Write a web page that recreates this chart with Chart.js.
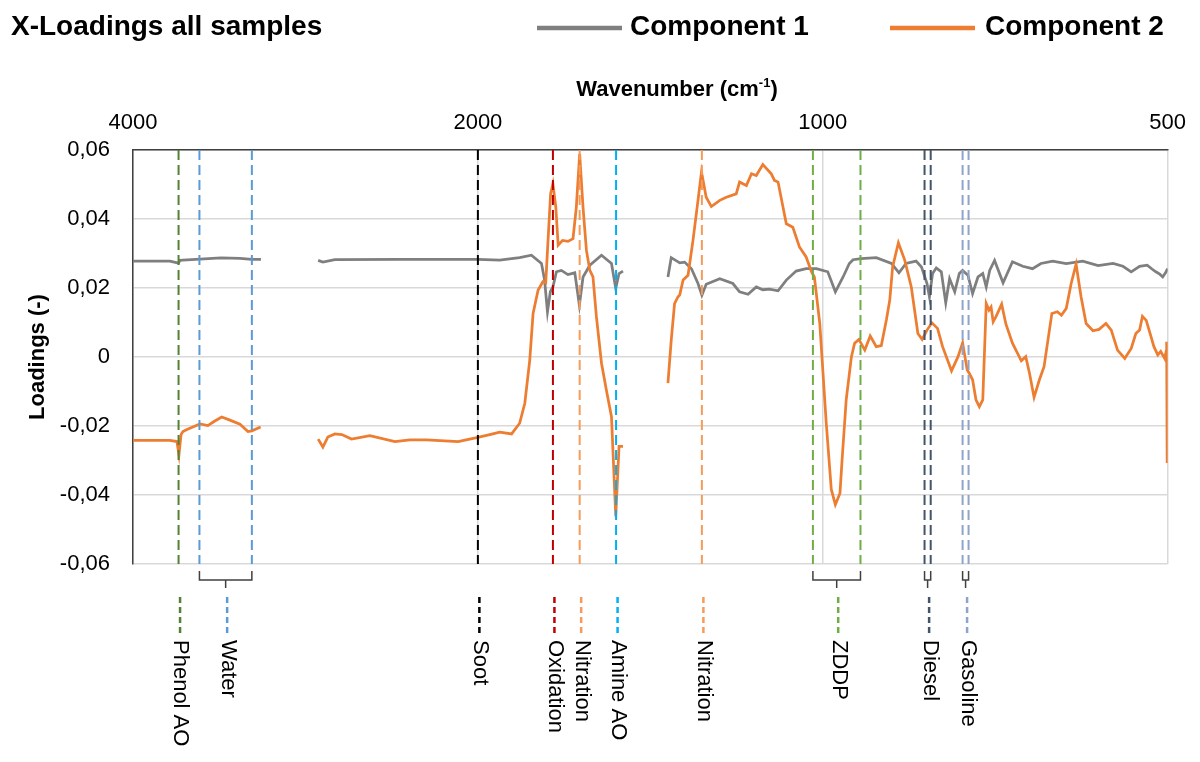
<!DOCTYPE html>
<html>
<head>
<meta charset="utf-8">
<script src="https://cdn.jsdelivr.net/npm/chart.js@4.4.1/dist/chart.umd.min.js"></script>
<style>
  html, body { margin: 0; padding: 0; background: #ffffff; }
  #wrap { width: 1200px; height: 762px; }
</style>
</head>
<body>
<div id="wrap"><canvas id="c" width="1200" height="762"></canvas></div>
<script>
// ---------------- DATA ----------------
const chartTitle = 'X-Loadings all samples';
const xTicks = [4000, 2000, 1000, 500];
const yTicks = [-0.06, -0.04, -0.02, 0, 0.02, 0.04, 0.06];

const comp1Wn = [4000, 3714, 3650, 3640, 3618, 3496, 3352, 3226, 3150, 3093, 2900,
  2757, 2731, 2666, 2340, 2000, 1914, 1839, 1796, 1760, 1749, 1739, 1729, 1720, 1708, 1691, 1669, 1646, 1631, 1619, 1597, 1560, 1529, 1516, 1506, 1494, 1430,
  1365, 1356, 1333, 1320, 1302, 1285, 1275, 1264, 1230, 1198, 1182, 1162, 1143, 1128, 1113, 1094, 1076, 1055, 1034, 1013, 990, 975, 960, 948, 941, 926, 898, 871, 858, 846, 829, 820, 811, 807, 802, 796, 788, 781, 775, 767, 760, 755, 747, 740, 732, 725, 720, 715, 708, 696, 683, 669, 656, 645, 630, 613, 593, 575, 558, 547, 538, 529, 521, 516, 512, 508, 505, 502, 500];
const comp1Val = [0.0278, 0.0278, 0.0272, 0.0280, 0.0281, 0.0284, 0.0287, 0.0286, 0.0283, 0.0283, null,
  0.0280, 0.0275, 0.0282, 0.0283, 0.0283, 0.0281, 0.0288, 0.0295, 0.0271, 0.0223, 0.0131, 0.0189, 0.0203, 0.0247, 0.0251, 0.0239, 0.0244, 0.0150, 0.0232, 0.0266, 0.0295, 0.0271, 0.0199, 0.0242, 0.0249, null,
  0.0232, 0.0288, 0.0273, 0.0275, 0.0256, 0.0213, 0.0179, 0.0211, 0.0227, 0.0213, 0.0189, 0.0182, 0.0203, 0.0195, 0.0197, 0.0192, 0.0223, 0.0249, 0.0256, 0.0256, 0.0247, 0.0189, 0.0232, 0.0271, 0.0282, 0.0285, 0.0288, 0.0271, 0.0244, 0.0271, 0.0278, 0.0261, 0.0213, 0.0174, 0.0242, 0.0258, 0.0247, 0.0157, 0.0227, 0.0189, 0.0242, 0.0251, 0.0237, 0.0184, 0.0232, 0.0242, 0.0203, 0.0251, 0.0280, 0.0215, 0.0276, 0.0263, 0.0256, 0.0271, 0.0278, 0.0271, 0.0278, 0.0265, 0.0271, 0.0263, 0.0247, 0.0263, 0.0266, 0.0255, 0.0247, 0.0240, 0.0232, 0.0245, 0.0256];

const comp2Wn = [4000, 3714, 3662, 3647, 3632, 3618, 3589, 3496, 3441, 3399, 3347, 3292, 3226, 3175, 3150, 3095, 2900,
  2757, 2731, 2704, 2666, 2629, 2578, 2485, 2363, 2293, 2218, 2081, 2000, 1953, 1914, 1869, 1839, 1820, 1802, 1790, 1772, 1755, 1745, 1737, 1728, 1720, 1710, 1702, 1687, 1669, 1652, 1641, 1630, 1619, 1608, 1597, 1587, 1576, 1560, 1545, 1529, 1516, 1506, 1494, 1430,
  1365, 1356, 1347, 1338, 1333, 1324, 1311, 1298, 1285, 1276, 1264, 1251, 1230, 1214, 1190, 1182, 1166, 1154, 1143, 1128, 1109, 1102, 1094, 1076, 1062, 1048, 1034, 1023, 1017, 1006, 993, 983, 975, 966, 962, 954, 944, 938, 930, 919, 909, 898, 889, 880, 874, 869, 859, 848, 837, 826, 819, 811, 803, 794, 786, 772, 762, 755, 748, 745, 740, 735, 730, 725, 720, 716, 713, 710, 706, 698, 692, 683, 671, 665, 660, 654, 647, 641, 636, 631, 624, 619, 613, 607, 601, 595, 589, 581, 574, 566, 560, 553, 545, 538, 533, 529, 526, 522, 517, 514, 510, 507, 503, 501.5, 501, 500.5, 500];
const comp2Val = [-0.0242, -0.0242, -0.0245, -0.0283, -0.0225, -0.0216, -0.0210, -0.0194, -0.0199, -0.0187, -0.0174, -0.0183, -0.0195, -0.0216, -0.0214, -0.0203, null,
  -0.0238, -0.0261, -0.0232, -0.0223, -0.0225, -0.0238, -0.0228, -0.0245, -0.0240, -0.0240, -0.0245, -0.0233, -0.0225, -0.0218, -0.0223, -0.0192, -0.0134, -0.0009, 0.0126, 0.0194, 0.0218, 0.0215, 0.0338, 0.0473, 0.0502, 0.0434, 0.0324, 0.0338, 0.0335, 0.0343, 0.0434, 0.0589, 0.0434, 0.0309, 0.0251, 0.0232, 0.0116, -0.0018, -0.0095, -0.0173, -0.0462, -0.0259, -0.0259, null,
  -0.0076, 0.0049, 0.0155, 0.0174, 0.0180, 0.0223, 0.0237, 0.0338, 0.0454, 0.0536, 0.0463, 0.0436, 0.0454, 0.0463, 0.0473, 0.0507, 0.0497, 0.0531, 0.0526, 0.0558, 0.0531, 0.0512, 0.0507, 0.0386, 0.0376, 0.0319, 0.0290, 0.0247, 0.0232, 0.0097, -0.0192, -0.0384, -0.0428, -0.0395, -0.0300, -0.0124, 0.0001, 0.0040, 0.0051, 0.0020, 0.0061, 0.0030, 0.0033, 0.0107, 0.0165, 0.0261, 0.0331, 0.0280, 0.0203, 0.0068, 0.0051, 0.0078, 0.0099, 0.0083, 0.0030, -0.0040, 0.0001, 0.0041, -0.0038, -0.0047, -0.0066, -0.0124, -0.0144, -0.0124, 0.0155, 0.0136, 0.0145, 0.0102, 0.0117, 0.0153, 0.0095, 0.0040, -0.0011, 0.0001, -0.0047, -0.0117, -0.0066, -0.0028, 0.0049, 0.0126, 0.0131, 0.0121, 0.0141, 0.0213, 0.0269, 0.0174, 0.0097, 0.0076, 0.0080, 0.0097, 0.0078, 0.0020, -0.0004, 0.0025, 0.0068, 0.0078, 0.0118, 0.0106, 0.0059, 0.0030, 0.0006, 0.0016, -0.0004, 0.0016, 0.0044, -0.0303, -0.0255];

const markerNames = ['Phenol AO', 'Water', 'Soot', 'Oxidation', 'Nitration', 'Amine AO', 'Nitration', 'ZDDP', 'Diesel', 'Gasoline'];
const markerWn = [[3650], [3500, 3150], [2000], [1720], [1630], [1515], [1275], [1020, 927], [815, 805], [755, 746]];
const markerColors = ['#548235', '#5B9BD5', '#000000', '#C00000', '#F79B5A', '#00B0F0', '#F79B5A', '#70AD47', '#44546A', '#8FA4C8'];

// ---------------- STYLE ----------------
const FONT = '"Liberation Sans", Arial, Helvetica, sans-serif';
Chart.defaults.font.family = FONT;

function fmtComma(v) {
  if (Math.abs(v) < 1e-9) return '0';
  return v.toFixed(2).replace('.', ',');
}

const decorPlugin = {
  id: 'decor',
  afterDatasetsDraw(chart) {
    const { ctx, chartArea: a, scales: { x } } = chart;
    ctx.save();
    markerWn.forEach((lines, i) => {
      const px = lines.map(v => x.getPixelForValue(v));
      ctx.strokeStyle = markerColors[i];
      ctx.lineWidth = 2;
      ctx.setLineDash([10, 5]);
      px.forEach(p => {
        ctx.beginPath();
        ctx.moveTo(p, a.top);
        ctx.lineTo(p, a.bottom);
        ctx.stroke();
      });
      let cx = px[0];
      if (px.length > 1) {
        const l = Math.min(...px), r = Math.max(...px);
        cx = (l + r) / 2;
        ctx.setLineDash([]);
        ctx.strokeStyle = '#404040';
        ctx.lineWidth = 1.5;
        ctx.beginPath();
        ctx.moveTo(l, a.bottom + 7);
        ctx.lineTo(l, a.bottom + 16);
        ctx.lineTo(r, a.bottom + 16);
        ctx.lineTo(r, a.bottom + 7);
        ctx.moveTo(cx, a.bottom + 16);
        ctx.lineTo(cx, a.bottom + 24);
        ctx.stroke();
      }
      const lx = cx + 1.5;
      ctx.setLineDash([6, 4]);
      ctx.strokeStyle = markerColors[i];
      ctx.lineWidth = 2.5;
      ctx.beginPath();
      ctx.moveTo(lx, a.bottom + 33);
      ctx.lineTo(lx, a.bottom + 73);
      ctx.stroke();
      ctx.setLineDash([]);
      ctx.save();
      ctx.translate(lx + 0.5, a.bottom + 76);
      ctx.rotate(Math.PI / 2);
      ctx.fillStyle = '#000000';
      ctx.font = '22px ' + FONT;
      ctx.textAlign = 'left';
      ctx.textBaseline = 'middle';
      ctx.fillText(markerNames[i], 0, 0);
      ctx.restore();
    });
    ctx.restore();
  },
  afterDraw(chart) {
    const { ctx } = chart;
    ctx.save();
    // title
    ctx.fillStyle = '#000000';
    ctx.font = 'bold 28px ' + FONT;
    ctx.textAlign = 'left';
    ctx.textBaseline = 'middle';
    ctx.fillText(chartTitle, 11, 27);
    // legend
    const legendPos = [[537, 622, 630], [890, 975, 985]];
    chart.data.datasets.forEach((ds, i) => {
      const [x0, x1, tx] = legendPos[i];
      ctx.strokeStyle = ds.borderColor;
      ctx.lineWidth = 4.5;
      ctx.beginPath();
      ctx.moveTo(x0, 28);
      ctx.lineTo(x1, 28);
      ctx.stroke();
      ctx.fillStyle = '#000000';
      ctx.font = 'bold 28px ' + FONT;
      ctx.fillText(ds.label, tx, 27);
    });
    // x axis title with superscript
    const main = 'Wavenumber (cm', sup = '-1', tail = ')';
    ctx.font = 'bold 22px ' + FONT;
    const w1 = ctx.measureText(main).width, w3 = ctx.measureText(tail).width;
    ctx.font = 'bold 13px ' + FONT;
    const w2 = ctx.measureText(sup).width;
    let sx = 677 - (w1 + w2 + w3) / 2;
    const ty = 90;
    ctx.font = 'bold 22px ' + FONT;
    ctx.fillText(main, sx, ty);
    ctx.font = 'bold 13px ' + FONT;
    ctx.fillText(sup, sx + w1, ty - 7);
    ctx.font = 'bold 22px ' + FONT;
    ctx.fillText(tail, sx + w1 + w2, ty);
    ctx.restore();
  }
};

new Chart(document.getElementById('c'), {
  type: 'line',
  data: {
    datasets: [
      {
        label: 'Component 1',
        data: comp1Wn.map((w, i) => ({ x: w, y: comp1Val[i] })),
        borderColor: '#7F7F7F',
        backgroundColor: '#7F7F7F',
        borderWidth: 2.75,
        pointRadius: 0,
        spanGaps: false,
        order: 2
      },
      {
        label: 'Component 2',
        data: comp2Wn.map((w, i) => ({ x: w, y: comp2Val[i] })),
        borderColor: '#ED7D31',
        backgroundColor: '#ED7D31',
        borderWidth: 2.75,
        pointRadius: 0,
        spanGaps: false,
        order: 1
      }
    ]
  },
  options: {
    responsive: false,
    animation: false,
    devicePixelRatio: 1,
    layout: { padding: { top: 0, left: 0, right: 32, bottom: 198 } },
    plugins: {
      legend: { display: false },
      tooltip: { enabled: false }
    },
    scales: {
      x: {
        type: 'logarithmic',
        position: 'top',
        reverse: true,
        min: 500,
        max: 4000,
        afterFit: s => { s.height = 150; },
        afterBuildTicks: s => { s.ticks = xTicks.map(v => ({ value: v })); },
        ticks: {
          autoSkip: false,
          maxRotation: 0,
          padding: 14,
          color: '#000000',
          font: { size: 22 },
          callback: v => String(v)
        },
        grid: { color: '#D9D9D9', lineWidth: 1.5, drawTicks: false },
        border: { display: true, color: '#404040', width: 1.5 }
      },
      y: {
        min: -0.06,
        max: 0.06,
        afterFit: s => { s.width = 133; },
        afterBuildTicks: s => { s.ticks = yTicks.map(v => ({ value: v })); },
        ticks: {
          padding: 23,
          color: '#000000',
          font: { size: 22 },
          callback: v => fmtComma(v)
        },
        grid: { color: '#D9D9D9', lineWidth: 1.5, drawTicks: false },
        border: { display: true, color: '#404040', width: 1.5 },
        title: {
          display: true,
          text: 'Loadings (-)',
          color: '#000000',
          font: { size: 22, weight: 'bold' },
          padding: { top: 25, bottom: 0 }
        }
      }
    }
  },
  plugins: [decorPlugin]
});
</script>
</body>
</html>
